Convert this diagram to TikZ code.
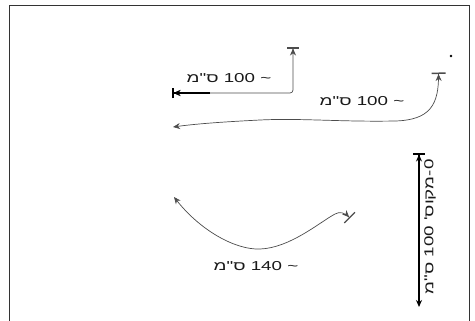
\documentclass[tikz,border=0pt]{standalone}
\usepackage{fontspec}
\setmainfont{Liberation Sans}
\newfontfamily\hebfont[Script=Hebrew, FakeStretch=1.45]{Liberation Sans}
\TeXXeTstate=1
\usetikzlibrary{arrows.meta}

\begin{document}
\begin{tikzpicture}[x=1bp, y=-1bp,
  lbl/.style={font=\hebfont\fontsize{13}{15}\selectfont, text=black!90,
              inner sep=0pt, anchor=base},
  dim/.style={draw=black!70, line width=0.7bp},
  bold/.style={draw=black, line width=1.6bp},
  both/.style={{Bar[width=12bp, line width=1.5bp] Stealth[length=7bp, width=6bp]}-{Stealth[length=7bp, width=6bp] Bar[width=10bp, line width=1.5bp]}},
  tobar/.style={{Bar[width=14bp, line width=1.5bp] Stealth[length=7bp, width=6bp]}-{Stealth[length=7bp, width=6bp]}},
  plain/.style={{Stealth[length=7bp, width=6bp]}-{Stealth[length=7bp, width=6bp] Bar[width=15bp, line width=1.2bp]}}
]
  \useasboundingbox (0,0) rectangle (475,320);
  \clip (0,0) rectangle (475,320);
  % frame, open at the bottom
  \draw[black!80, line width=1.3bp] (9.5,330) -- (9.5,5.5) -- (469.5,5.5) -- (469.5,330);
  \fill[black] (451,56) circle (1.3bp);

  % elbow (top left)
  \coordinate (e1) at (293,47);
  \coordinate (e2) at (172,93);
  \coordinate (k1) at (210,93);
  \draw[dim, both, rounded corners=3bp] (e1) |- (e2);
  \draw[bold, line width=1.2bp, -{Stealth[length=7bp, width=6bp] Bar[width=10bp, line width=1.5bp]}] (k1) -- (e2);
  \node[lbl] (len1) at (229,82.7) {\beginR\textasciitilde{} \beginL 100\endL{} ס"מ\endR};

  % long curve
  \coordinate (w1) at (438.5,72.5);
  \coordinate (w2) at (173,127);
  \draw[dim, tobar] (w1) .. controls (439,105) and (430,120) .. (395,121)
    .. controls (340,122) and (300,118) .. (260,120)
    .. controls (220,122) and (195,124) .. (w2);
  \node[lbl] (len2) at (362,105) {\beginR\textasciitilde{} \beginL 100\endL{} ס"מ\endR};

  % sagging arc
  \coordinate (s1) at (174,197);
  \coordinate (s2) at (350,218);
  \draw[dim, plain] (s1) .. controls (200,230) and (235,250) .. (260,249)
    .. controls (290,248) and (320,222) .. (335,214)
    .. controls (340,211) and (345,213) .. (s2);
  \node[lbl] (len3) at (256,270.7) {\beginR\textasciitilde{} \beginL 140\endL{} ס"מ\endR};

  % vertical rod
  \coordinate (v1) at (419,153);
  \coordinate (v2) at (419,307);
  \draw[bold, {Bar[width=12bp, line width=1.5bp] Stealth[length=7bp, width=6bp]}-{Stealth[length=7bp, width=6bp]}] (v1) -- (v2);
  \node[lbl, rotate=90] (len4) at (433.3,227) {\beginR 0\kern0pt-\kern0pt מקוס' \beginL 100\endL{} ס"מ\endR};
\end{tikzpicture}
\end{document}
